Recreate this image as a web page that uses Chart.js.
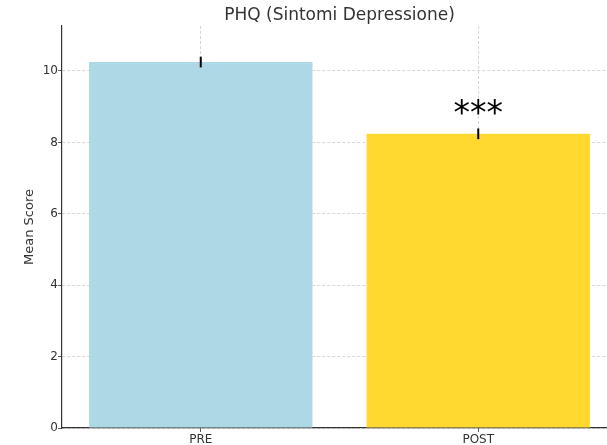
<!DOCTYPE html>
<html>
<head>
<meta charset="utf-8">
<script src="https://cdn.jsdelivr.net/npm/chart.js@4"></script>
<style>
    html, body { margin: 0; padding: 0; background: #fff; overflow: hidden; }
    #wrap { width: 620px; height: 445px; }
</style>
</head>
<body>
<div id="wrap"><canvas id="phqChart" width="620" height="445"></canvas></div>
<script>
// ========================================
// PHQ chart data
// ========================================
const categories = ['PRE', 'POST'];
const meanScores = [10.25, 8.24];
const errors = [0.15, 0.15];
const significance = ['', '***'];
const yTicks = [0, 2, 4, 6, 8, 10];

const chartTitle = 'PHQ (Sintomi Depressione)';
const barColors = ['#ADD8E6', '#FFD92F'];
const textColor = '#333333';
const fontFamily = 'DejaVu Sans';

// Title centred over the plot area (like matplotlib does)
const plotTitlePlugin = {
    id: 'plotTitle',
    afterDraw(chart) {
        const ctx = chart.ctx;
        const area = chart.chartArea;
        ctx.save();
        ctx.fillStyle = textColor;
        ctx.font = '17px ' + fontFamily;
        ctx.textAlign = 'center';
        ctx.textBaseline = 'alphabetic';
        ctx.fillText(chartTitle, (area.left + area.right) / 2, area.top - 6);
        ctx.restore();
    }
};

// Error bars and significance stars, drawn through the scales
const errorBarPlugin = {
    id: 'errorBars',
    afterDatasetsDraw(chart) {
        const ctx = chart.ctx;
        const xScale = chart.scales.x;
        const yScale = chart.scales.y;
        ctx.save();
        meanScores.forEach((value, i) => {
            const x = xScale.getPixelForValue(i);
            const top = yScale.getPixelForValue(value + errors[i]);
            const bottom = yScale.getPixelForValue(value - errors[i]);
            ctx.strokeStyle = '#000';
            ctx.lineWidth = 2;
            ctx.beginPath();
            ctx.moveTo(x, top);
            ctx.lineTo(x, bottom);
            ctx.stroke();

            if (significance[i]) {
                ctx.fillStyle = '#000';
                ctx.font = '33px ' + fontFamily;
                ctx.textAlign = 'center';
                ctx.textBaseline = 'bottom';
                ctx.fillText(significance[i], x, top + 3);
            }
        });
        ctx.restore();
    }
};

document.addEventListener('DOMContentLoaded', function () {
    const ctx = document.getElementById('phqChart');
    new Chart(ctx, {
        type: 'bar',
        data: {
            labels: categories,
            datasets: [{
                data: meanScores,
                backgroundColor: barColors,
                borderWidth: 0,
                barPercentage: 0.805,
                categoryPercentage: 1.0
            }]
        },
        options: {
            responsive: false,
            animation: false,
            layout: { padding: { left: 0, right: 3, top: 26, bottom: 0 } },
            plugins: {
                legend: { display: false },
                tooltip: { enabled: false },
                title: { display: false }
            },
            scales: {
                x: {
                    z: 1,
                    offset: true,
                    grid: {
                        offset: false,
                        color: 'rgba(0,0,0,0.2)',
                        lineWidth: 0.8,
                        tickColor: textColor,
                        tickLength: 4,
                        tickBorderDash: []
                    },
                    border: { display: true, color: textColor, width: 1.2, dash: [3, 2] },
                    ticks: {
                        color: textColor,
                        padding: 1,
                        font: { family: fontFamily, size: 12 }
                    },
                    afterFit(scale) { scale.height = 17; }
                },
                y: {
                    z: 1,
                    min: 0,
                    max: 11.26,
                    afterBuildTicks(scale) {
                        scale.ticks = yTicks.map(v => ({ value: v }));
                    },
                    grid: {
                        color: 'rgba(0,0,0,0.2)',
                        lineWidth: 0.8,
                        tickColor: textColor,
                        tickLength: 4,
                        tickBorderDash: []
                    },
                    border: { display: true, color: textColor, width: 1.2, dash: [3, 2] },
                    ticks: {
                        color: textColor,
                        padding: 0,
                        font: { family: fontFamily, size: 12 }
                    },
                    title: {
                        display: true,
                        text: 'Mean Score',
                        color: textColor,
                        padding: { top: 22, bottom: 0 },
                        font: { family: fontFamily, size: 13 }
                    },
                    afterFit(scale) { scale.width = 62; }
                }
            }
        },
        plugins: [errorBarPlugin, plotTitlePlugin]
    });
});
</script>
</body>
</html>
